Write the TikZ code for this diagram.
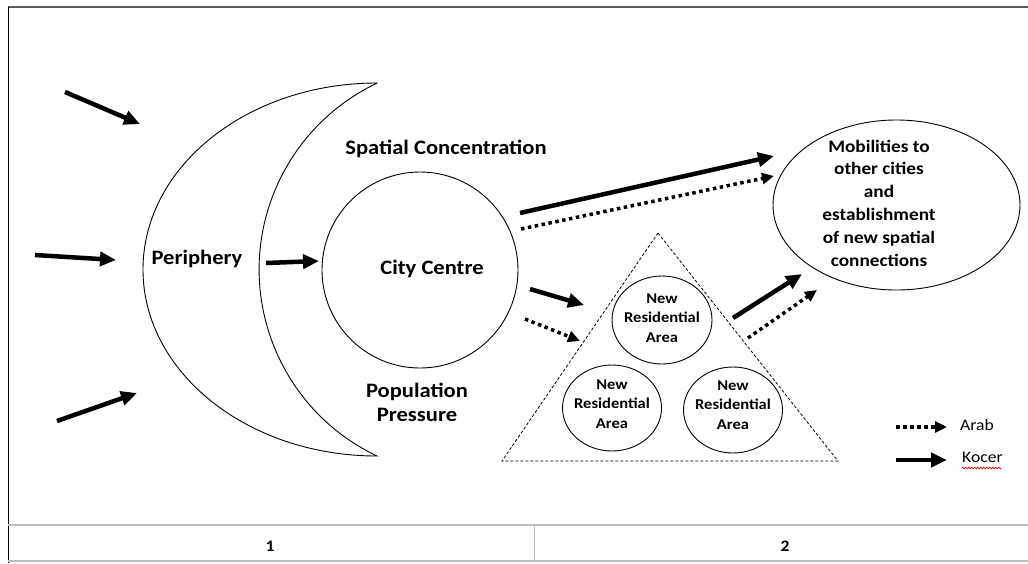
\documentclass[tikz,border=0pt]{standalone}
\usepackage{fontspec}
\setmainfont{Carlito}
\newfontfamily\wide[FakeStretch=1.1]{Carlito}
\usetikzlibrary{arrows.meta,shapes.geometric,decorations.pathmorphing}
\begin{document}
\begin{tikzpicture}[x=1pt,y=1pt,
  solidarrow/.style={line width=4.5pt,-{Triangle[length=16pt,width=14pt]}},
  dotarrow/.style={line width=3.5pt,dash pattern=on 3.5pt off 3.5pt,-{Triangle[length=12pt,width=11pt]}},
  outline/.style={draw,line width=0.9pt},
  lbl/.style={font=\wide\bfseries\fontsize{20.5}{24}\selectfont,align=center,inner sep=0},
  mobfont/.style={font=\wide\bfseries\fontsize{17.5}{22.8}\selectfont,align=center,inner sep=0},
  small/.style={font=\wide\bfseries\fontsize{15}{19.5}\selectfont,align=center,inner sep=0},
  legend/.style={font=\wide\fontsize{16}{18}\selectfont,anchor=west,inner sep=0},
  framegray/.style={draw=black!25,line width=1.5pt},
]
\useasboundingbox (0,0) rectangle (1028,-563);
% frame
\draw[draw=black!65,line width=1.8pt] (8,-7) -- (1028,-7);
\draw[line width=1pt] (8,-7) -- (8,-563);
% table at bottom
\draw[framegray] (8,-525) -- (1028,-525);
\draw[framegray] (8,-561) -- (1028,-561);
\draw[draw=black!25,line width=0.8pt] (534,-525) -- (534,-561);
\node[font=\wide\bfseries\fontsize{16}{18}\selectfont] (n1) at (270,-546) {1};
\node[font=\wide\bfseries\fontsize{16}{18}\selectfont] (n2) at (785,-546) {2};

% crescent (periphery)
\draw[outline] (377,-83) arc[start angle=90,end angle=270,x radius=234,y radius=186.5]
  arc[start angle=244.6,end angle=115.4,radius=206.4] -- cycle;
\node[lbl] (per) at (197,-259) {Periphery};

% city centre
\node[outline,circle,minimum size=196pt,inner sep=0] (cc) at (420,-270) {};
\node[lbl] (cct) at (432,-269) {City Centre};
\node[lbl] (sc) at (446,-149) {Spatial Concentration};
\node[lbl] (pp) at (417,-402) {Population\\Pressure};

% mobilities
\node[outline,ellipse,minimum width=247pt,minimum height=170pt,inner sep=0] (mob) at (896.5,-205) {};
\node[mobfont] (mobt) at (879,-203) {Mobilities to\\other cities\\and\\establishment\\of new spatial\\connections};

% triangle
\draw[line width=0.8pt,dash pattern=on 3pt off 2pt] (658,-233) -- (838,-461) -- (502,-461) -- cycle;
\node[outline,ellipse,minimum width=100pt,minimum height=88pt,inner sep=0] (nr1) at (662,-320) {};
\node[outline,ellipse,minimum width=99pt,minimum height=86pt,inner sep=0] (nr2) at (612,-408) {};
\node[outline,ellipse,minimum width=99pt,minimum height=86pt,inner sep=0] (nr3) at (733,-410) {};
\node[small] (nr1t) at (662,-318) {New\\Residential\\Area};
\node[small] (nr2t) at (612,-404) {New\\Residential\\Area};
\node[small] (nr3t) at (733,-405) {New\\Residential\\Area};

% arrow end points
\coordinate (a1s) at (65,-92);   \coordinate (a1e) at (140,-124);
\coordinate (a2s) at (35,-255);  \coordinate (a2e) at (116,-260);
\coordinate (a3s) at (57,-421);  \coordinate (a3e) at (137,-393);
\coordinate (a4s) at (266,-263); \coordinate (a4e) at (319,-261);
\coordinate (a5s) at (520,-213); \coordinate (a5e) at (774,-156);
\coordinate (a6s) at (521,-229); \coordinate (a6e) at (774,-176);
\coordinate (a7s) at (530,-289); \coordinate (a7e) at (584,-305);
\coordinate (a8s) at (525,-319); \coordinate (a8e) at (580,-341);
\coordinate (a9s) at (733,-318); \coordinate (a9e) at (802,-274);
\coordinate (a10s) at (748,-338); \coordinate (a10e) at (817,-290);

\draw[solidarrow] (a1s) -- (a1e);
\draw[solidarrow] (a2s) -- (a2e);
\draw[solidarrow] (a3s) -- (a3e);
\draw[solidarrow] (a4s) -- (a4e);
\draw[solidarrow] (a5s) -- (a5e);
\draw[dotarrow] (a6s) -- (a6e);
\draw[solidarrow] (a7s) -- (a7e);
\draw[dotarrow] (a8s) -- (a8e);
\draw[solidarrow] (a9s) -- (a9e);
\draw[dotarrow] (a10s) -- (a10e);

% legend
\coordinate (l1s) at (896,-427); \coordinate (l1e) at (947,-427);
\coordinate (l2s) at (896,-460); \coordinate (l2e) at (947,-460);
\draw[dotarrow] (l1s) -- (l1e);
\draw[solidarrow] (l2s) -- (l2e);
\node[legend] (arab) at (960,-425) {Arab};
\node[legend] (kocer) at (962,-457) {Kocer};
\draw[red,line width=0.6pt,decorate,decoration={zigzag,amplitude=1pt,segment length=3pt}] (962,-468) -- (1001,-468);
\end{tikzpicture}
\end{document}
